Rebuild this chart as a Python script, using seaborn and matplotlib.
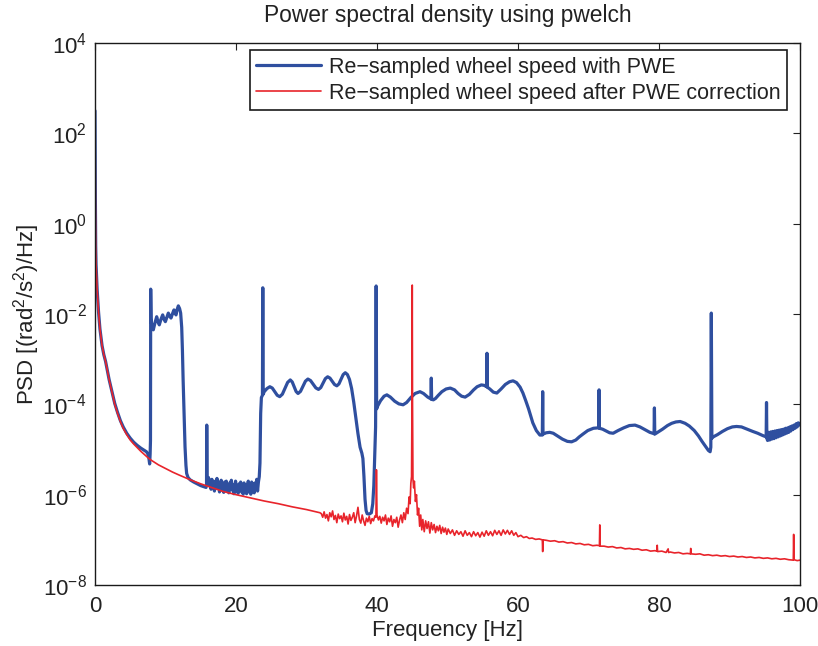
import numpy as np
import pandas as pd
import matplotlib
matplotlib.use("Agg")
import matplotlib.pyplot as plt
import seaborn as sns
from matplotlib.ticker import NullLocator

# ---------------- data ----------------
title = "Power spectral density using pwelch"
x_label = "Frequency [Hz]"
y_label = "PSD [(rad$^2$/s$^2$)/Hz]"
series_names = ["Re\u2212sampled wheel speed with PWE",
                "Re\u2212sampled wheel speed after PWE correction"]
x_ticks = [0, 20, 40, 60, 80, 100]
y_ticks = [1e-8, 1e-6, 1e-4, 1e-2, 1e0, 1e2, 1e4]

# (frequency in Hz, log10 of PSD)
blue_points = [
    (0.0, 2.5), (0.05, 0.6), (0.1, -0.5), (0.15, -0.9), (0.2, -1.1), (0.3, -1.45),
    (0.4, -1.72), (0.5, -1.95), (0.6, -2.15), (0.7, -2.33), (0.85, -2.52), (1.0, -2.7),
    (1.25, -2.9), (1.5, -3.05), (1.75, -3.25), (2.0, -3.45), (2.4, -3.72), (2.8, -3.98),
    (3.2, -4.18), (3.6, -4.36), (4.0, -4.5), (4.5, -4.64), (5.0, -4.75), (5.5, -4.84),
    (6.0, -4.91), (6.5, -4.97), (7.0, -5.02), (7.3, -5.05), (7.5, -5.1), (7.65, -5.2),
    (7.75, -5.32), (7.82, -5.1), (7.87, -4.8), (7.9, -1.45), (7.95, -2.1), (8.05, -2.25),
    (8.2, -2.33), (8.27, -2.35), (8.5, -2.2), (8.75, -2.06), (8.95, -2.18), (9.12, -2.24),
    (9.35, -2.12), (9.6, -2.02), (9.8, -2.12), (9.98, -2.17), (10.2, -2.07), (10.4, -1.98),
    (10.6, -2.05), (10.78, -2.09), (11.0, -1.99), (11.2, -1.91), (11.35, -1.98),
    (11.49, -2.02), (11.65, -1.9), (11.82, -1.82), (12.0, -1.88), (12.15, -1.98),
    (12.3, -2.3), (12.4, -2.8), (12.5, -3.46), (12.65, -4.3), (12.77, -4.94), (12.9, -5.35),
    (13.0, -5.53), (13.2, -5.62), (13.48, -5.67), (14.0, -5.72), (14.5, -5.76), (15.0, -5.8),
    (15.4, -5.82), (15.75, -5.84), (15.82, -5.78), (15.85, -4.46), (15.9, -5.7), (16.0, -5.65),
    (16.1, -5.62), (16.22, -5.80), (16.34, -5.68), (16.46, -5.88), (16.58, -5.66),
    (16.7, -5.84), (16.82, -5.72), (16.94, -5.92), (17.06, -5.70), (17.18, -5.86),
    (17.3, -5.64), (17.42, -5.82), (17.54, -5.74), (17.66, -5.94), (17.78, -5.78),
    (17.9, -5.68), (18.02, -5.90), (18.14, -5.76), (18.26, -5.95), (18.38, -5.72),
    (18.5, -5.86), (18.62, -5.70), (18.74, -5.92), (18.86, -5.80), (18.98, -5.96),
    (19.1, -5.74), (19.22, -5.88), (19.34, -5.68), (19.46, -5.90), (19.58, -5.78),
    (19.7, -5.98), (19.82, -5.82), (19.94, -5.70), (20.06, -5.92), (20.18, -5.80),
    (20.3, -5.97), (20.42, -5.76), (20.54, -5.90), (20.66, -5.72), (20.78, -5.94),
    (20.9, -5.84), (21.02, -5.99), (21.14, -5.74), (21.26, -5.88), (21.38, -5.78),
    (21.5, -5.98), (21.62, -5.82), (21.74, -5.70), (21.86, -5.94), (21.98, -5.80),
    (22.1, -5.99), (22.22, -5.72), (22.34, -5.90), (22.46, -5.76), (22.58, -5.96),
    (22.7, -5.74), (22.82, -5.88), (22.94, -5.66), (23.06, -5.92), (23.18, -5.72),
    (23.3, -5.6), (23.4, -5.3), (23.5, -4.2), (23.6, -3.85), (23.75, -3.8), (23.8, -1.42),
    (23.85, -3.78), (24.0, -3.72), (24.4, -3.65), (24.8, -3.61), (25.15, -3.64),
    (25.5, -3.72), (25.85, -3.80), (26.2, -3.83), (26.575, -3.776), (26.95, -3.645),
    (27.325, -3.514), (27.7, -3.46), (27.975, -3.504), (28.25, -3.61), (28.525, -3.716),
    (28.8, -3.76), (29.15, -3.713), (29.5, -3.60), (29.85, -3.487), (30.2, -3.44),
    (30.575, -3.474), (30.95, -3.555), (31.325, -3.636), (31.7, -3.67), (32.025, -3.629),
    (32.35, -3.53), (32.675, -3.431), (33.0, -3.39), (33.325, -3.419), (33.65, -3.49),
    (33.975, -3.561), (34.3, -3.59), (34.6, -3.548), (34.9, -3.445), (35.2, -3.342),
    (35.5, -3.30), (35.8, -3.34), (36.1, -3.45), (36.4, -3.65), (36.7, -3.95), (37.0, -4.3),
    (37.3, -4.65), (37.6, -4.95), (37.85, -5.08), (38.0, -5.2), (38.15, -5.6), (38.3, -6.1),
    (38.45, -6.35), (38.6, -6.42), (38.9, -6.43), (39.2, -6.4), (39.4, -6.2), (39.55, -5.8),
    (39.7, -5.0), (39.8, -4.5), (39.88, -1.38), (39.95, -4.1), (40.05, -4.05), (40.5, -3.92),
    (41.0, -3.82), (41.4, -3.79), (41.9, -3.84), (42.5, -3.93), (43.1, -3.99), (43.7, -4.01),
    (44.2, -3.96), (44.8, -3.85), (45.4, -3.76), (46.1, -3.72), (46.6, -3.76), (47.2, -3.84),
    (47.65, -3.88), (47.7, -3.42), (47.75, -3.89), (48.0, -3.9), (48.3, -3.87), (48.7, -3.8),
    (49.2, -3.72), (49.8, -3.66), (50.4, -3.64), (51.0, -3.68), (51.5, -3.76), (52.0, -3.82),
    (52.5, -3.84), (53.1, -3.78), (53.7, -3.68), (54.2, -3.61), (54.8, -3.57), (55.2, -3.58),
    (55.55, -3.61), (55.6, -2.87), (55.65, -3.62), (56.0, -3.66), (56.5, -3.73),
    (57.0, -3.75), (57.6, -3.66), (58.2, -3.56), (58.8, -3.5), (59.3, -3.48), (59.8, -3.52),
    (60.3, -3.62), (60.7, -3.75), (61.1, -3.92), (61.5, -4.1), (62.1, -4.41), (62.6, -4.58),
    (63.1, -4.68), (63.45, -4.68), (63.5, -3.72), (63.55, -4.66), (64.0, -4.63),
    (64.5, -4.62), (65.0, -4.64), (65.6, -4.7), (66.3, -4.77), (67.0, -4.82), (67.6, -4.83),
    (68.2, -4.79), (68.7, -4.72), (69.2, -4.66), (69.9, -4.58), (70.7, -4.53),
    (71.45, -4.52), (71.5, -3.68), (71.55, -4.53), (72.0, -4.55), (72.5, -4.59),
    (73.0, -4.63), (73.5, -4.64), (74.2, -4.58), (75.0, -4.52), (75.8, -4.47), (76.6, -4.46),
    (77.3, -4.5), (78.0, -4.56), (78.7, -4.62), (79.3, -4.65), (79.35, -4.08), (79.4, -4.66),
    (79.8, -4.62), (80.5, -4.55), (81.2, -4.47), (81.8, -4.42), (82.4, -4.39), (83.0, -4.38),
    (83.7, -4.42), (84.3, -4.48), (85.0, -4.58), (85.6, -4.7), (86.1, -4.82), (86.5, -4.91),
    (87.0, -5.02), (87.25, -5.05), (87.35, -4.95), (87.42, -1.98), (87.5, -4.75),
    (87.7, -4.72), (88.3, -4.67), (89.0, -4.6), (89.7, -4.54), (90.4, -4.5), (91.0, -4.49),
    (91.7, -4.5), (92.5, -4.55), (93.3, -4.6), (94.0, -4.64), (94.7, -4.69), (95.2, -4.72),
    (95.25, -3.96), (95.3, -4.75), (95.4, -4.80), (95.55, -4.62), (95.7, -4.79),
    (95.85, -4.61), (96.0, -4.77), (96.15, -4.60), (96.3, -4.76), (96.45, -4.59),
    (96.6, -4.74), (96.75, -4.58), (96.9, -4.72), (97.05, -4.57), (97.2, -4.70),
    (97.35, -4.56), (97.5, -4.68), (97.65, -4.55), (97.8, -4.66), (97.95, -4.53),
    (98.1, -4.64), (98.25, -4.52), (98.4, -4.62), (98.55, -4.50), (98.7, -4.59),
    (98.85, -4.48), (99.0, -4.56), (99.15, -4.46), (99.3, -4.53), (99.45, -4.43),
    (99.6, -4.50), (99.75, -4.41), (99.9, -4.46), (100.0, -4.42),
]

red_points = [
    (0.0, 2.5), (0.05, 0.6), (0.1, -0.5), (0.15, -0.9), (0.2, -1.1), (0.3, -1.45),
    (0.4, -1.72), (0.5, -1.95), (0.6, -2.15), (0.7, -2.33), (0.85, -2.52), (1.0, -2.7),
    (1.25, -2.9), (1.5, -3.05), (1.75, -3.25), (2.0, -3.45), (2.4, -3.72), (2.8, -4.0),
    (3.2, -4.2), (3.6, -4.38), (4.0, -4.53), (4.5, -4.67), (5.0, -4.79), (5.5, -4.88),
    (6.0, -4.96), (6.5, -5.04), (7.0, -5.11), (7.5, -5.18), (8.0, -5.24), (9.0, -5.34),
    (10.0, -5.42), (11.0, -5.5), (12.0, -5.57), (13.5, -5.67), (15.0, -5.76), (16.5, -5.84),
    (18.2, -5.93), (20.0, -6.0), (22.0, -6.07), (24.0, -6.14), (26.0, -6.2), (28.0, -6.27),
    (30.0, -6.33), (31.9, -6.4),
    (32.1, -6.42), (32.3, -6.50), (32.5, -6.38), (32.7, -6.52), (32.9, -6.44), (33.1, -6.58),
    (33.3, -6.40), (33.5, -6.49), (33.7, -6.36), (33.9, -6.55), (34.1, -6.46), (34.3, -6.62),
    (34.5, -6.43), (34.7, -6.53), (34.9, -6.47), (35.1, -6.60), (35.3, -6.41), (35.5, -6.56),
    (35.7, -6.48), (35.9, -6.65), (36.1, -6.44), (36.3, -6.57), (36.5, -6.50), (36.7, -6.40),
    (36.9, -6.62), (37.1, -6.47), (37.3, -6.28), (37.5, -6.55), (37.7, -6.63), (37.9, -6.45),
    (38.1, -6.58), (38.3, -6.68), (38.5, -6.52), (38.7, -6.60), (38.9, -6.48), (39.1, -6.64),
    (39.3, -6.53), (39.5, -6.58), (39.7, -6.47), (39.85, -6.50), (39.92, -5.45), (40.0, -6.45),
    (40.2, -6.56), (40.4, -6.48), (40.6, -6.63), (40.8, -6.50), (41.0, -6.58), (41.2, -6.45),
    (41.4, -6.66), (41.6, -6.52), (41.8, -6.60), (42.0, -6.47), (42.2, -6.70), (42.4, -6.55),
    (42.6, -6.62), (42.8, -6.50), (43.0, -6.72), (43.2, -6.56), (43.4, -6.45), (43.6, -6.62),
    (43.8, -6.40), (44.0, -6.55), (44.2, -6.30), (44.4, -6.42), (44.55, -6.05), (44.7, -6.2),
    (44.8, -5.75), (44.9, -5.6), (44.96, -4.0), (45.0, -1.36), (45.04, -4.0), (45.1, -5.65),
    (45.2, -5.85), (45.3, -5.7), (45.45, -6.15), (45.6, -6.0), (45.75, -6.45), (45.9, -6.3),
    (46.05, -6.7), (46.2, -6.45), (46.35, -6.78), (46.5, -6.55), (46.7, -6.82), (46.9, -6.58),
    (47.1, -6.75), (47.3, -6.6), (47.5, -6.85), (47.7, -6.62), (47.9, -6.78), (48.1, -6.66),
    (48.3, -6.84), (48.5, -6.7), (48.7, -6.80), (48.9, -6.68), (49.1, -6.86), (49.3, -6.72),
    (49.5, -6.83), (49.7, -6.74), (49.9, -6.88), (50.1, -6.76), (50.4, -6.86), (50.7, -6.78),
    (51.0, -6.90), (51.3, -6.80), (51.6, -6.88), (51.9, -6.82), (52.2, -6.92), (52.5, -6.80),
    (52.8, -6.90), (53.1, -6.84), (53.4, -6.93), (53.7, -6.82), (54.0, -6.91), (54.3, -6.84),
    (54.6, -6.94), (54.9, -6.83), (55.2, -6.92), (55.5, -6.80), (55.8, -6.90), (56.1, -6.82),
    (56.4, -6.91), (56.7, -6.79), (57.0, -6.88), (57.3, -6.80), (57.6, -6.90), (57.9, -6.78),
    (58.2, -6.87), (58.5, -6.79), (58.8, -6.88), (59.1, -6.80), (59.4, -6.9), (59.7, -6.84),
    (60.0, -6.93), (60.4, -6.9), (60.8, -6.95), (61.2, -6.93), (61.6, -6.97), (62.0, -6.96),
    (62.5, -6.99), (63.0, -6.98), (63.45, -7.0), (63.5, -7.26), (63.55, -7.0), (64.0, -7.01),
    (64.6, -7.03), (65.2, -7.02), (65.8, -7.05), (66.4, -7.04), (67.0, -7.07), (67.6, -7.06),
    (68.2, -7.09), (68.8, -7.08), (69.4, -7.11), (70.0, -7.10), (70.6, -7.13), (71.2, -7.12),
    (71.55, -7.13), (71.6, -6.67), (71.65, -7.14), (72.2, -7.14), (72.8, -7.16),
    (73.4, -7.15), (74.0, -7.18), (74.6, -7.17), (75.2, -7.2), (75.8, -7.19), (76.4, -7.21),
    (77.0, -7.2), (77.6, -7.23), (78.2, -7.22), (78.8, -7.25), (79.4, -7.24), (79.7, -7.25),
    (79.75, -7.12), (79.8, -7.26), (80.4, -7.25), (81.0, -7.28), (81.3, -7.2), (81.35, -7.28),
    (81.6, -7.27), (82.2, -7.29), (82.8, -7.28), (83.4, -7.31), (84.0, -7.3), (84.45, -7.31),
    (84.5, -7.19), (84.55, -7.31), (85.2, -7.32), (85.8, -7.31), (86.4, -7.34), (87.0, -7.33),
    (87.6, -7.35), (88.2, -7.34), (88.8, -7.36), (89.4, -7.35), (90.0, -7.37), (90.6, -7.36),
    (91.2, -7.38), (91.8, -7.37), (92.4, -7.39), (93.0, -7.38), (93.6, -7.40), (94.2, -7.39),
    (94.8, -7.41), (95.4, -7.4), (96.0, -7.42), (96.6, -7.41), (97.2, -7.43), (97.8, -7.42),
    (98.4, -7.44), (99.0, -7.45), (99.05, -7.45), (99.1, -6.88), (99.15, -7.44),
    (99.6, -7.46), (100.0, -7.45),
]

blue_color = "#2f4f9f"
red_color = "#e8242b"
text_color = "#222222"

# ---------------- styling ----------------
sns.set_style("white")
plt.rcParams["font.family"] = ["Liberation Sans", "DejaVu Sans"]
plt.rcParams["mathtext.fontset"] = "custom"
plt.rcParams["mathtext.rm"] = "Liberation Sans"
plt.rcParams["mathtext.it"] = "Liberation Sans:italic"
plt.rcParams["mathtext.default"] = "regular"
plt.rcParams["text.color"] = text_color
plt.rcParams["axes.labelcolor"] = text_color
plt.rcParams["xtick.color"] = text_color
plt.rcParams["ytick.color"] = text_color

fig = plt.figure(figsize=(8.18, 6.46), dpi=100)
ax = fig.add_axes([95 / 818, 1 - 585 / 646, 705 / 818, 542 / 646])

blue_df = pd.DataFrame(blue_points, columns=["freq", "log_psd"])
blue_df["psd"] = 10.0 ** blue_df["log_psd"]
red_df = pd.DataFrame(red_points, columns=["freq", "log_psd"])
red_df["psd"] = 10.0 ** red_df["log_psd"]

sns.lineplot(data=blue_df, x="freq", y="psd", ax=ax, color=blue_color, lw=2.3,
             estimator=None, sort=False, label=series_names[0])
sns.lineplot(data=red_df, x="freq", y="psd", ax=ax, color=red_color, lw=1.2,
             estimator=None, sort=False, label=series_names[1])

ax.set_yscale("log")
ax.set_xlim(0, 100)
ax.set_ylim(1e-8, 1e4)
ax.set_xticks(x_ticks)
ax.set_yticks(y_ticks)
ax.yaxis.set_minor_locator(NullLocator())
ax.xaxis.set_minor_locator(NullLocator())

fs = 16
ax.tick_params(axis="both", which="major", direction="in", length=5, width=0.8,
               top=True, right=True, labelsize=fs)
ax.tick_params(axis="x", pad=8)
ax.tick_params(axis="y", pad=6)
for s in ax.spines.values():
    s.set_visible(True)
    s.set_color("#1a1a1a")
    s.set_linewidth(1.0)

ax.set_title(title, fontsize=16.4, pad=15)
ax.set_xlabel(x_label, fontsize=fs, labelpad=2)
ax.set_ylabel(y_label, fontsize=fs, labelpad=0)

leg = ax.legend(loc="upper right", bbox_to_anchor=(0.9816, 0.987), borderaxespad=0,
                fontsize=15.5, frameon=True, fancybox=False, framealpha=1,
                edgecolor="#1a1a1a", handlelength=3.0, handletextpad=0.37,
                labelspacing=0.25, borderpad=0.3)
leg.get_frame().set_linewidth(1.2)
for t in leg.get_texts():
    t.set_color(text_color)

fig.savefig("out.png", dpi=100)
